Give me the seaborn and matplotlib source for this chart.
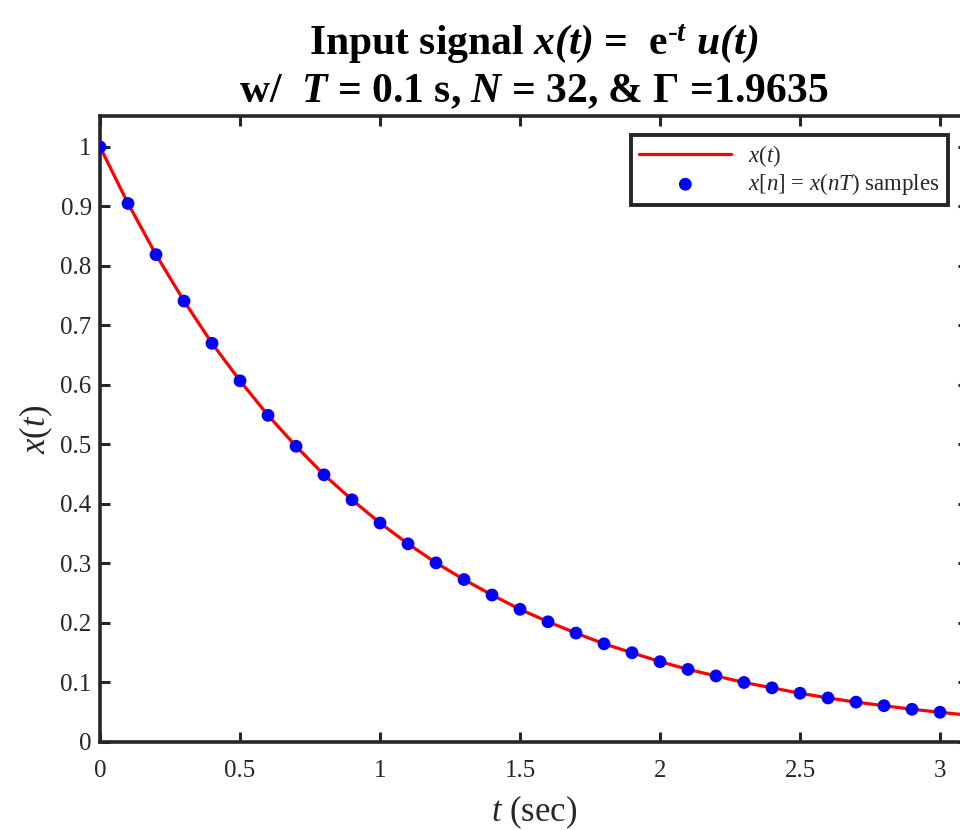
import numpy as np
import pandas as pd
import matplotlib
matplotlib.use("Agg")
import matplotlib.pyplot as plt
from matplotlib.ticker import FormatStrFormatter
import seaborn as sns

# ======================= Data =======================
t_samples = [0.0, 0.1, 0.2, 0.3, 0.4, 0.5, 0.6, 0.7, 0.8, 0.9,
             1.0, 1.1, 1.2, 1.3, 1.4, 1.5, 1.6, 1.7, 1.8, 1.9,
             2.0, 2.1, 2.2, 2.3, 2.4, 2.5, 2.6, 2.7, 2.8, 2.9,
             3.0, 3.1]
x_samples = [1.000, 0.905, 0.819, 0.741, 0.670, 0.607, 0.549, 0.497, 0.449, 0.407,
             0.368, 0.333, 0.301, 0.273, 0.247, 0.223, 0.202, 0.183, 0.165, 0.150,
             0.135, 0.122, 0.111, 0.100, 0.091, 0.082, 0.074, 0.067, 0.061, 0.055,
             0.050, 0.045]
x_ticks = [0, 0.5, 1, 1.5, 2, 2.5, 3]
y_ticks = [0, 0.1, 0.2, 0.3, 0.4, 0.5, 0.6, 0.7, 0.8, 0.9, 1]

df = pd.DataFrame({"t": t_samples, "x": x_samples})

# ======================= Style =======================
sns.set_style("ticks")
plt.rcParams["font.family"] = ["Liberation Serif", "DejaVu Serif"]
plt.rcParams["mathtext.fontset"] = "custom"
plt.rcParams["mathtext.rm"] = "Liberation Serif"
plt.rcParams["mathtext.it"] = "Liberation Serif:italic"
plt.rcParams["mathtext.bf"] = "Liberation Serif:bold:italic"

spine_col = "#262626"

fig = plt.figure(figsize=(9.6, 8.3), dpi=100)
# axes runs slightly past the right edge, like the cropped original
ax = fig.add_axes([100 / 960, 1 - 742 / 830, 868 / 960, (742 - 116) / 830])

sns.lineplot(data=df, x="t", y="x", ax=ax, color="red", linewidth=2.3,
             label="$x(t)$", sort=False)
sns.scatterplot(data=df, x="t", y="x", ax=ax, color="blue", s=85,
                edgecolor="none", label="$x[n]$ = $x(nT)$ samples", zorder=3)

ax.set_xlim(0, 3.1)
ax.set_ylim(0, 1.052)
ax.set_xticks(x_ticks)
ax.set_yticks(y_ticks)
ax.xaxis.set_major_formatter(FormatStrFormatter("%g"))
ax.yaxis.set_major_formatter(FormatStrFormatter("%g"))
ax.tick_params(direction="in", length=7, width=2.2, color=spine_col,
               labelsize=18, labelcolor="#262626", top=True, right=True)
ax.tick_params(axis="x", pad=13)
ax.tick_params(axis="y", pad=6)
for sp in ax.spines.values():
    sp.set_visible(True)
    sp.set_linewidth(2.6)
    sp.set_color(spine_col)

ax.set_xlabel("$t$ (sec)", fontsize=25, color="#262626", labelpad=8)
ax.set_ylabel("$x(t)$", fontsize=25, color="#262626", labelpad=4)

ax.set_title("Input signal $\\mathbf{x(t)}$ =  e$^{\\text{-}\\mathbf{t}}$ $\\mathbf{u(t)}$\n"
             "w/  $\\mathbf{T}$ = 0.1 s, $\\mathbf{N}$ = 32, & \u0393 =1.9635",
             fontsize=30, fontweight="bold", color="black", pad=10, linespacing=1.25)

leg = ax.legend(loc="upper right", bbox_to_anchor=((948 - 100) / 868, 1 - (135 - 116) / 626),
                borderaxespad=0, fontsize=16.5, frameon=True, fancybox=False,
                borderpad=0.35, handlelength=4.0, handletextpad=0.75, labelspacing=0.1)
leg.get_frame().set_edgecolor(spine_col)
leg.get_frame().set_linewidth(2.8)
leg.get_frame().set_alpha(1)

fig.savefig("out.png", dpi=100)
plt.close(fig)
